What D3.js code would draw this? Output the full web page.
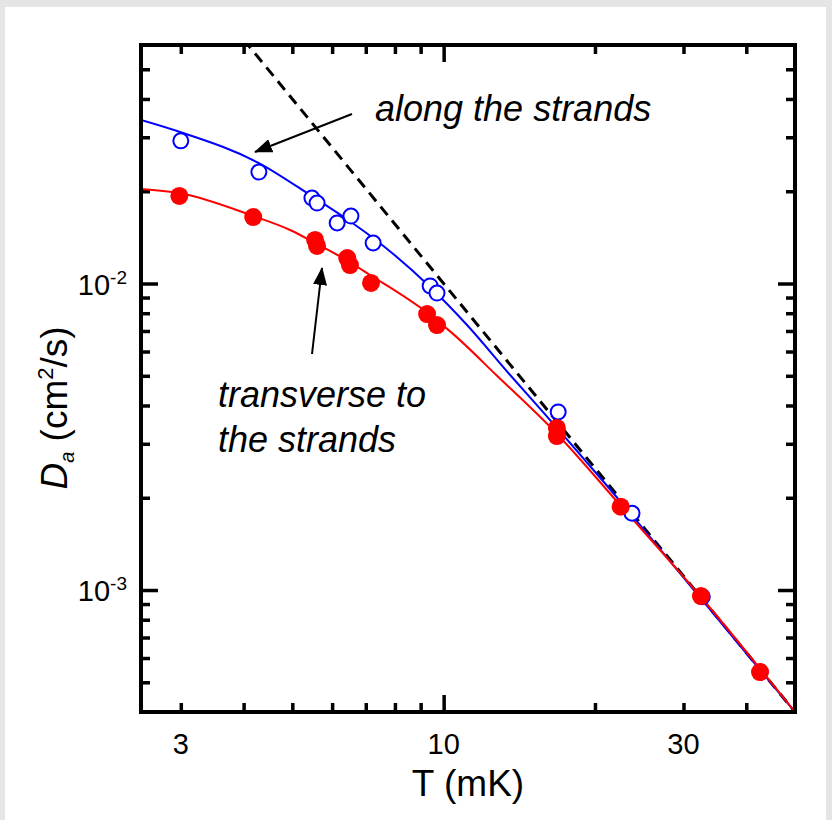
<!DOCTYPE html>
<html>
<head>
<meta charset="utf-8">
<script src="https://cdn.jsdelivr.net/npm/d3@7"></script>
<style>
  body { margin: 0; background: #e5e5e5; }
  text { font-family: "Liberation Sans", Arial, sans-serif; fill: #000; }
</style>
</head>
<body>
<div id="chart"></div>
<script>
// measured points, along the strands (open blue)
const alongT = [3.0, 4.29, 5.47, 5.60, 6.14, 6.54, 7.24, 9.40, 9.70, 16.9, 23.7, 32.7, 42.6];
const alongD = [0.0292, 0.0231, 0.0190, 0.0183, 0.01576, 0.0166, 0.01356, 0.00982, 0.00931, 0.00381, 0.00178, 0.00095, 0.00054];

// measured points, transverse to the strands (filled red)
const transT = [2.98, 4.18, 5.55, 5.60, 6.43, 6.51, 7.17, 9.27, 9.70, 16.8, 16.8, 22.5, 32.5, 42.6];
const transD = [0.0193, 0.01648, 0.01387, 0.01326, 0.01211, 0.01149, 0.01004, 0.00795, 0.00732, 0.00338, 0.00318, 0.00187, 0.000956, 0.00054];

// fitted curves
const alongFitT = [2.5, 2.99, 4.29, 5.50, 6.54, 7.24, 9.40, 11.13, 13.56, 16.89, 21.24, 32.67, 50];
const alongFitD = [0.03416, 0.03121, 0.02472, 0.01915, 0.01588, 0.01408, 0.00974, 0.00732, 0.00503, 0.00335, 0.002168, 0.000928, 0.0004];
const transFitT = [2.5, 2.975, 4.18, 4.95, 5.60, 6.45, 7.14, 9.40, 10.44, 12.77, 16.81, 22.44, 32.37, 50];
const transFitD = [0.02034, 0.01974, 0.01661, 0.01495, 0.01345, 0.01184, 0.01066, 0.00790, 0.00685, 0.00500, 0.00323, 0.001894, 0.000956, 0.0004];

// high temperature asymptote (dashed)
const asymT = [4.0, 50];
const asymD = [0.0625, 0.0004];

// ticks
const xMajor = [10];
const xMinor = [3, 4, 5, 6, 7, 8, 9, 20, 30, 40];
const xLabels = [3, 10, 30];
const yMajor = [1e-3, 1e-2];
const yMinor = [5e-4, 6e-4, 7e-4, 8e-4, 9e-4, 2e-3, 3e-3, 4e-3, 5e-3, 6e-3, 7e-3, 8e-3, 9e-3, 2e-2, 3e-2, 4e-2, 5e-2];
const yLabelExp = [-3, -2];

const W = 832, H = 820;
const mLeft = 141, mRight = 795, mTop = 45, mBottom = 712;

const svg = d3.select("#chart").append("svg")
  .attr("width", W)
  .attr("height", H);

svg.append("rect").attr("width", W).attr("height", H).attr("fill", "#e5e5e5");
svg.append("rect").attr("x", 5).attr("y", 7).attr("width", 821).attr("height", 813).attr("fill", "#fff");

const x = d3.scaleLog().domain([2.5, 50]).range([mLeft, mRight]);
const y = d3.scaleLog().domain([4e-4, 0.06]).range([mBottom, mTop]);

const defs = svg.append("defs");
defs.append("clipPath").attr("id", "clip")
  .append("rect")
  .attr("x", mLeft).attr("y", mTop)
  .attr("width", mRight - mLeft).attr("height", mBottom - mTop);
defs.append("marker")
  .attr("id", "arrow")
  .attr("markerUnits", "userSpaceOnUse")
  .attr("viewBox", "0 -7 18 14")
  .attr("refX", 17).attr("refY", 0)
  .attr("markerWidth", 18).attr("markerHeight", 14)
  .attr("orient", "auto")
  .append("path")
  .attr("d", "M0,-7L18,0L0,7Z")
  .attr("fill", "#000");

// ticks, all pointing inward
function ticks(axis, vals, size, tr) {
  const g = svg.append("g")
    .attr("transform", tr)
    .call(axis.tickValues(vals).tickSize(-size).tickFormat(""));
  g.select(".domain").remove();
  g.selectAll("line").attr("stroke", "#000").attr("stroke-width", 3.5);
}
ticks(d3.axisBottom(x), xMinor, 9, `translate(0,${mBottom})`);
ticks(d3.axisBottom(x), xMajor, 17, `translate(0,${mBottom})`);
ticks(d3.axisTop(x), xMinor, 9, `translate(0,${mTop})`);
ticks(d3.axisTop(x), xMajor, 17, `translate(0,${mTop})`);
ticks(d3.axisLeft(y), yMinor, 9, `translate(${mLeft},0)`);
ticks(d3.axisLeft(y), yMajor, 17, `translate(${mLeft},0)`);
ticks(d3.axisRight(y), yMinor, 9, `translate(${mRight},0)`);
ticks(d3.axisRight(y), yMajor, 17, `translate(${mRight},0)`);

const plot = svg.append("g").attr("clip-path", "url(#clip)");

const line = d3.line()
  .x(d => x(d[0]))
  .y(d => y(d[1]))
  .curve(d3.curveMonotoneX);

plot.append("path")
  .attr("d", line(asymT.map((t, i) => [t, asymD[i]])))
  .attr("fill", "none")
  .attr("stroke", "#000")
  .attr("stroke-width", 3)
  .attr("stroke-dasharray", "11,7");

plot.append("path")
  .attr("d", line(alongFitT.map((t, i) => [t, alongFitD[i]])))
  .attr("fill", "none")
  .attr("stroke", "#0000ff")
  .attr("stroke-width", 2);

plot.append("path")
  .attr("d", line(transFitT.map((t, i) => [t, transFitD[i]])))
  .attr("fill", "none")
  .attr("stroke", "#ff0000")
  .attr("stroke-width", 2);

plot.selectAll("circle.along")
  .data(alongT.map((t, i) => [t, alongD[i]]))
  .enter().append("circle")
  .attr("class", "along")
  .attr("cx", d => x(d[0]))
  .attr("cy", d => y(d[1]))
  .attr("r", 7.5)
  .attr("fill", "#fff")
  .attr("stroke", "#0000ff")
  .attr("stroke-width", 2);

plot.selectAll("circle.trans")
  .data(transT.map((t, i) => [t, transD[i]]))
  .enter().append("circle")
  .attr("class", "trans")
  .attr("cx", d => x(d[0]))
  .attr("cy", d => y(d[1]))
  .attr("r", 9)
  .attr("fill", "#ff0000");

// frame
svg.append("rect")
  .attr("x", mLeft).attr("y", mTop)
  .attr("width", mRight - mLeft).attr("height", mBottom - mTop)
  .attr("fill", "none")
  .attr("stroke", "#000")
  .attr("stroke-width", 4);

// tick labels
svg.selectAll("text.xl")
  .data(xLabels)
  .enter().append("text")
  .attr("class", "xl")
  .attr("x", d => x(d))
  .attr("y", 754)
  .attr("text-anchor", "middle")
  .style("font-size", "29px")
  .text(d => d);

yLabelExp.forEach(e => {
  const t = svg.append("text")
    .attr("x", 127)
    .attr("y", y(Math.pow(10, e)) + 11)
    .attr("text-anchor", "end")
    .style("font-size", "29px");
  t.append("tspan").text("10");
  t.append("tspan").attr("dy", -11).style("font-size", "19px").text(e);
});

// axis titles
svg.append("text")
  .attr("x", 468)
  .attr("y", 796)
  .attr("text-anchor", "middle")
  .style("font-size", "37px")
  .text("T (mK)");

const yt = svg.append("text")
  .attr("transform", "translate(67,408) rotate(-90)")
  .attr("text-anchor", "middle")
  .style("font-size", "37px");
yt.append("tspan").style("font-style", "italic").text("D");
yt.append("tspan").style("font-style", "italic").style("font-size", "20px").attr("dy", 7).text("a");
yt.append("tspan").attr("dy", -7).text(" (cm");
yt.append("tspan").style("font-size", "22px").attr("dy", -14).text("2");
yt.append("tspan").attr("dy", 14).text("/s)");

// annotations
svg.append("text")
  .attr("x", 375).attr("y", 121)
  .style("font-size", "36px").style("font-style", "italic")
  .text("along the strands");
svg.append("text")
  .attr("x", 218).attr("y", 407)
  .style("font-size", "36px").style("font-style", "italic")
  .text("transverse to");
svg.append("text")
  .attr("x", 218).attr("y", 452)
  .style("font-size", "36px").style("font-style", "italic")
  .text("the strands");

svg.append("line")
  .attr("x1", 352).attr("y1", 114).attr("x2", 255).attr("y2", 152)
  .attr("stroke", "#000").attr("stroke-width", 2)
  .attr("marker-end", "url(#arrow)");
svg.append("line")
  .attr("x1", 312).attr("y1", 354).attr("x2", 322).attr("y2", 268)
  .attr("stroke", "#000").attr("stroke-width", 2)
  .attr("marker-end", "url(#arrow)");
</script>
</body>
</html>
